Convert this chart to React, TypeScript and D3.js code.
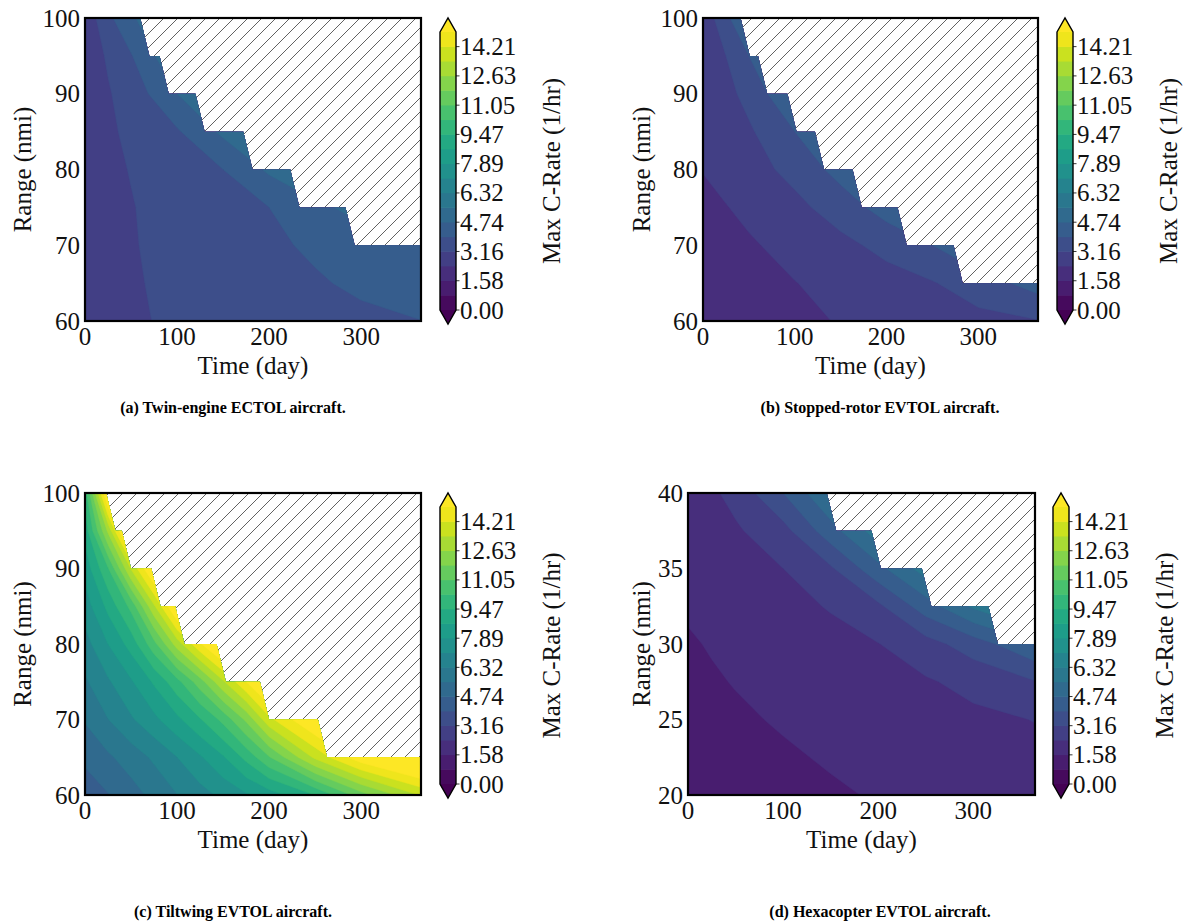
import React from 'react';
import * as d3 from 'd3';

// ---------------- DATA ----------------
const timeDomain: [number, number] = [0, 365];
const timeGridDays = [0, 25, 50, 100, 150, 200, 250, 300, 365];
const timeGridTiltwing = [0, 25, 50, 75, 100, 125, 150, 175, 200, 250, 300, 365];
const rangeGridMain = [60, 65, 70, 75, 80, 85, 90, 95, 100];
const rangeGridHex = [20, 22.5, 25, 27.5, 30, 32.5, 35, 37.5, 40];
const xTickValues = [0, 100, 200, 300];
const yTicksMain = [60, 70, 80, 90, 100];
const yTicksHex = [20, 25, 30, 35, 40];
const cLevelMax = 15;
const cLevelCount = 20;
const cbarTickLabels = ['0.00', '1.58', '3.16', '4.74', '6.32', '7.89', '9.47', '11.05', '12.63', '14.21'];
const cornerCutDays = 10;

// Max C-rate (1/hr); rows = range (low -> high), columns = time grid
const cRateTwin = [
  [3.05, 3.08, 3.11, 3.217, 3.353, 3.488, 3.623, 3.758, 3.93],
  [3.03, 3.07, 3.11, 3.27, 3.464, 3.657, 3.85, 4.105, 4.515],
  [3.0, 3.062, 3.123, 3.324, 3.555, 3.786, 4.086, 4.35, 4.65],
  [2.95, 3.043, 3.13, 3.399, 3.673, 3.947, 4.55, 5.0, 5.6],
  [2.9, 3.037, 3.181, 3.564, 3.947, 4.87, 5.5, 6.2, 7.0],
  [2.85, 3.05, 3.293, 3.857, 4.9, 5.6, 6.3, 7.0, 8.0],
  [2.8, 3.098, 3.474, 4.737, 5.6, 6.5, 7.4, 8.3, 9.3],
  [2.75, 3.237, 3.894, 5.5, 6.5, 7.5, 8.5, 9.5, 10.5],
  [2.6, 3.765, 4.59, 6.0, 7.0, 8.0, 9.0, 10.0, 11.0],
];
const cRateStopped = [
  [1.75, 1.9, 2.05, 2.25, 2.4, 2.58, 2.76, 2.94, 3.12],
  [1.846, 1.97, 2.098, 2.35, 2.602, 2.855, 3.107, 3.553, 4.276],
  [1.943, 2.11, 2.28, 2.618, 2.955, 3.383, 3.947, 4.737, 5.6],
  [2.135, 2.34, 2.544, 2.953, 3.517, 4.298, 5.13, 5.9, 6.8],
  [2.4, 2.62, 2.846, 3.395, 4.243, 5.175, 5.9, 6.6, 7.5],
  [2.48, 2.76, 3.045, 3.947, 5.03, 5.9, 6.7, 7.5, 8.5],
  [2.55, 2.93, 3.405, 4.737, 5.86, 6.8, 7.7, 8.6, 9.6],
  [2.6, 3.158, 3.947, 5.68, 6.8, 7.8, 8.8, 9.8, 10.8],
  [2.63, 3.728, 4.95, 6.5, 7.5, 8.5, 9.5, 10.5, 11.5],
];
const cRateTiltwing = [
  [4.3, 4.7, 5.2, 5.75, 6.3, 6.8, 7.3, 7.8, 8.3, 9.5, 11.5, 13.5],
  [4.9, 5.4, 5.9, 6.45, 7.1, 7.8, 8.6, 9.7, 11.0, 13.6, 15.6, 17.0],
  [5.6, 6.3, 7.0, 7.7, 8.5, 9.4, 10.5, 12.0, 14.0, 16.0, 18.0, 20.0],
  [6.2, 7.0, 7.8, 8.8, 10.0, 11.5, 13.3, 15.0, 16.5, 19.0, 20.0, 21.0],
  [6.8, 7.9, 9.0, 10.8, 13.0, 14.9, 16.5, 18.0, 19.0, 20.0, 21.0, 22.0],
  [7.5, 8.9, 10.5, 13.3, 16.2, 17.8, 19.0, 19.5, 20.0, 21.0, 22.0, 23.0],
  [8.2, 10.2, 13.5, 16.2, 18.0, 18.5, 19.0, 19.5, 20.0, 21.0, 22.0, 23.0],
  [9.0, 12.8, 17.5, 18.3, 19.0, 19.5, 20.0, 20.5, 21.0, 22.0, 23.0, 24.0],
  [9.8, 16.3, 18.0, 18.5, 19.0, 19.5, 20.0, 20.5, 21.0, 22.0, 23.0, 24.0],
];
const cRateHexa = [
  [1.145, 1.205, 1.265, 1.385, 1.505, 1.625, 1.745, 1.865, 2.021],
  [1.246, 1.311, 1.376, 1.506, 1.636, 1.766, 1.896, 2.026, 2.195],
  [1.352, 1.423, 1.494, 1.636, 1.778, 1.92, 2.062, 2.203, 2.388],
  [1.436, 1.52, 1.606, 1.777, 1.947, 2.118, 2.288, 2.585, 3.116],
  [1.52, 1.62, 1.724, 1.932, 2.14, 2.347, 2.85, 3.55, 4.65],
  [1.65, 1.773, 1.896, 2.14, 2.42, 3.0, 4.35, 5.65, 7.0],
  [1.72, 1.88, 2.04, 2.368, 3.05, 4.5, 5.9, 7.0, 8.0],
  [1.8, 2.03, 2.26, 2.887, 4.42, 5.95, 7.0, 8.0, 9.5],
  [1.9, 2.24, 2.62, 3.947, 5.526, 7.0, 8.5, 10.0, 11.5],
];

// feasibility: last feasible day for each range row (top row first)
const feasRangeTwin = [100, 95, 90, 85, 80, 75, 70];
const lastDayTwin = [60, 81, 120, 172, 223, 283, 365];
const feasRangeStopped = [100, 95, 90, 85, 80, 75, 70, 65];
const lastDayStopped = [41, 60, 92, 122, 163, 212, 273, 365];
const feasRangeTiltwing = [100, 95, 90, 85, 80, 75, 70, 65];
const lastDayTiltwing = [23, 40, 72, 98, 143, 190, 253, 365];
const feasRangeHexa = [40, 37.5, 35, 32.5, 30];
const lastDayHexa = [146, 193, 246, 316, 365];

const captions = [
  '(a) Twin-engine ECTOL aircraft.',
  '(b) Stopped-rotor EVTOL aircraft.',
  '(c) Tiltwing EVTOL aircraft.',
  '(d) Hexacopter EVTOL aircraft.',
];
const xAxisLabel = 'Time (day)';
const yAxisLabel = 'Range (nmi)';
const cbarLabel = 'Max C-Rate (1/hr)';

// ---------------- LAYOUT ----------------
const panelLayout = [
  { x0: 85, x1: 421, y0: 18, y1: 321, cbX: 440, yLabelX: 22, captionX: 233, captionY: 413 },
  { x0: 703, x1: 1038, y0: 18, y1: 321, cbX: 1057, yLabelX: 641, captionX: 880, captionY: 413 },
  { x0: 85, x1: 421, y0: 493, y1: 795, cbX: 440, yLabelX: 22, captionX: 233, captionY: 917 },
  { x0: 688, x1: 1035, y0: 493, y1: 795, cbX: 1053, yLabelX: 641, captionX: 880, captionY: 917 },
];

const panelData = [
  { values: cRateTwin, timeGrid: timeGridDays, rangeGrid: rangeGridMain, yTicks: yTicksMain, feasRanges: feasRangeTwin, lastDays: lastDayTwin },
  { values: cRateStopped, timeGrid: timeGridDays, rangeGrid: rangeGridMain, yTicks: yTicksMain, feasRanges: feasRangeStopped, lastDays: lastDayStopped },
  { values: cRateTiltwing, timeGrid: timeGridTiltwing, rangeGrid: rangeGridMain, yTicks: yTicksMain, feasRanges: feasRangeTiltwing, lastDays: lastDayTiltwing },
  { values: cRateHexa, timeGrid: timeGridDays, rangeGrid: rangeGridHex, yTicks: yTicksHex, feasRanges: feasRangeHexa, lastDays: lastDayHexa },
];

const FONT = "'Liberation Serif', 'Times New Roman', serif";
const FS = 25;

const levels = d3.range(cLevelCount).map((i) => (cLevelMax * i) / (cLevelCount - 1));
const nBands = cLevelCount - 1;
const bandColor = (i: number) => d3.interpolateViridis((i + 0.5) / nBands);
const underColor = d3.interpolateViridis(0);
const overColor = d3.interpolateViridis(1);

function Panel({ idx }: { idx: number }) {
  const L = panelLayout[idx];
  const D = panelData[idx];
  const rg = D.rangeGrid;
  const tg = D.timeGrid;
  const xs = d3.scaleLinear().domain(timeDomain).range([L.x0, L.x1]);
  const ys = d3.scaleLinear().domain([rg[0], rg[rg.length - 1]]).range([L.y1, L.y0]);
  const nx = tg.length;
  const ny = rg.length;
  const ix = d3.scaleLinear().domain(d3.range(nx)).range(tg);
  const iy = d3.scaleLinear().domain(d3.range(ny)).range(rg);
  const flat = D.values.flat();
  const thresholds = [-1, ...levels];
  const contours = d3.contours().size([nx, ny]).thresholds(thresholds)(flat);
  const clampX = (c: number) => Math.max(0, Math.min(nx - 1, c - 0.5));
  const clampY = (c: number) => Math.max(0, Math.min(ny - 1, c - 0.5));
  const pathOf = (g: any) =>
    g.coordinates
      .map((poly: number[][][]) =>
        poly
          .map(
            (ring) =>
              'M' +
              ring
                .map(([cx, cy]) => `${xs(ix(clampX(cx))).toFixed(2)},${ys(iy(clampY(cy))).toFixed(2)}`)
                .join('L') +
              'Z'
          )
          .join('')
      )
      .join('');
  const colorFor = (k: number) => (k === 0 ? underColor : k === thresholds.length - 1 ? overColor : bandColor(k - 1));

  // feasible polygon (staircase with corner-cut diagonals)
  const fr = D.feasRanges;
  const ld = D.lastDays;
  const k = ld.length - 1;
  const pts: [number, number][] = [
    [timeDomain[0], rg[0]],
    [timeDomain[1], rg[0]],
    [timeDomain[1], fr[k]],
  ];
  for (let i = k - 1; i >= 0; i--) {
    pts.push([ld[i] + cornerCutDays, fr[i + 1]]);
    pts.push([ld[i], fr[i]]);
  }
  pts.push([timeDomain[0], fr[0]]);
  const feasPath = 'M' + pts.map(([d, r]) => `${xs(d)},${ys(r)}`).join('L') + 'Z';
  const clipId = `feas-${idx}`;

  // colorbar
  const cbW = 16;
  const arrow = 14;
  const cbTop = L.y0 + 14;
  const cbBot = L.y1 - 11;
  const cs = d3.scaleLinear().domain([0, cLevelMax]).range([cbBot, cbTop]);
  const cx = L.cbX;
  const outline = `M${cx},${cbTop}L${cx + cbW / 2},${cbTop - arrow}L${cx + cbW},${cbTop}L${cx + cbW},${cbBot}L${cx + cbW / 2},${cbBot + arrow}L${cx},${cbBot}Z`;

  return (
    <g>
      <defs>
        <clipPath id={clipId}>
          <path d={feasPath} />
        </clipPath>
      </defs>
      <rect x={L.x0} y={L.y0} width={L.x1 - L.x0} height={L.y1 - L.y0} fill="url(#hatch)" />
      <g clipPath={`url(#${clipId})`}>
        {contours.map((c, i) => (
          <path key={i} d={pathOf(c)} fill={colorFor(i)} stroke={colorFor(i)} strokeWidth={0.4} />
        ))}
      </g>
      <rect x={L.x0} y={L.y0} width={L.x1 - L.x0} height={L.y1 - L.y0} fill="none" stroke="#000" strokeWidth={2.2} />
      {xTickValues.map((t) => (
        <text key={'x' + t} x={xs(t)} y={L.y1 + 24} textAnchor="middle" fontSize={FS} fontFamily={FONT} fill="#111">
          {t}
        </text>
      ))}
      {D.yTicks.map((t) => (
        <text key={'y' + t} x={L.x0 - 5} y={ys(t)} textAnchor="end" dominantBaseline="central" fontSize={FS} fontFamily={FONT} fill="#111">
          {t}
        </text>
      ))}
      <text x={(L.x0 + L.x1) / 2} y={L.y1 + 53} textAnchor="middle" fontSize={FS} fontFamily={FONT} fill="#111">
        {xAxisLabel}
      </text>
      <text
        transform={`translate(${L.yLabelX},${(L.y0 + L.y1) / 2}) rotate(-90)`}
        textAnchor="middle"
        dominantBaseline="central"
        fontSize={FS}
        fontFamily={FONT}
        fill="#111"
      >
        {yAxisLabel}
      </text>
      {d3.range(nBands).map((i) => (
        <rect key={'cb' + i} x={cx} y={cs(levels[i + 1]) - 0.3} width={cbW} height={cs(levels[i]) - cs(levels[i + 1]) + 0.6} fill={bandColor(i)} />
      ))}
      <path d={`M${cx},${cbTop}L${cx + cbW / 2},${cbTop - arrow}L${cx + cbW},${cbTop}Z`} fill={overColor} />
      <path d={`M${cx},${cbBot}L${cx + cbW / 2},${cbBot + arrow}L${cx + cbW},${cbBot}Z`} fill={underColor} />
      <path d={outline} fill="none" stroke="#000" strokeWidth={1.4} />
      {cbarTickLabels.map((lab, j) => (
        <g key={'ct' + j}>
          <line x1={cx + cbW} x2={cx + cbW + 3.5} y1={cs(levels[2 * j])} y2={cs(levels[2 * j])} stroke="#000" strokeWidth={0.8} />
          <text x={cx + cbW + 4} y={cs(levels[2 * j])} dominantBaseline="central" fontSize={FS} fontFamily={FONT} fill="#111">
            {lab}
          </text>
        </g>
      ))}
      <text
        transform={`translate(${cx + 111},${(cbTop + cbBot) / 2}) rotate(-90)`}
        textAnchor="middle"
        dominantBaseline="central"
        fontSize={FS}
        fontFamily={FONT}
        fill="#111"
      >
        {cbarLabel}
      </text>
      <text x={L.captionX} y={L.captionY} textAnchor="middle" fontSize={16} fontWeight="bold" fontFamily={FONT} fill="#000">
        {captions[idx]}
      </text>
    </g>
  );
}

export default function App() {
  return (
    <svg width={1183} height={924} style={{ position: 'absolute', left: 0, top: 0, background: '#fff' }}>
      <defs>
        <pattern id="hatch" patternUnits="userSpaceOnUse" width={14} height={14}>
          <rect width={14} height={14} fill="#fff" />
          <path d="M-2,2L2,-2M0,14L14,0M12,16L16,12" stroke="#3a3a3a" strokeWidth={0.8} />
        </pattern>
      </defs>
      <rect width={1183} height={924} fill="#fff" />
      {panelLayout.map((_, i) => (
        <Panel key={i} idx={i} />
      ))}
    </svg>
  );
}
